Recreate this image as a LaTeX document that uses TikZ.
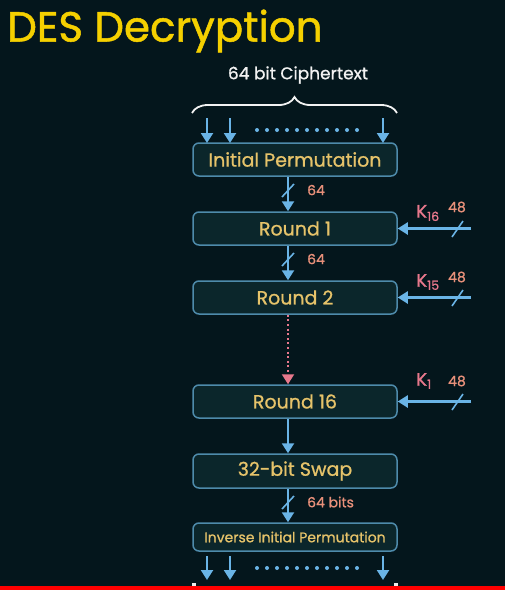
\documentclass[tikz,border=0pt]{standalone}
\usepackage{fontspec}
\setmainfont{Poppins}[FakeBold=0.9]
\newfontfamily\titlefont{Poppins}[FakeBold=1.2]
\usetikzlibrary{arrows.meta,decorations.pathreplacing}
\definecolor{bg}{HTML}{04161C}
\definecolor{boxfill}{HTML}{0B262B}
\definecolor{boxline}{HTML}{4E8BAB}
\definecolor{arrowc}{HTML}{6AB4E6}
\definecolor{boxtext}{HTML}{E6C36A}
\definecolor{numc}{HTML}{E8907A}
\definecolor{keyc}{HTML}{E8788C}
\definecolor{titlec}{HTML}{F5D000}
\definecolor{barred}{HTML}{FF0000}
\tikzset{
  stagebox/.style={draw=boxline, fill=boxfill, line width=1.5pt, rounded corners=6pt,
    minimum width=204pt, minimum height=33pt, inner sep=0pt, text=boxtext, font=\fontsize{19}{19}\selectfont},
  flow/.style={draw=arrowc, line width=2.2pt, -{Triangle[width=12pt,length=10pt]}},
  dotflow/.style={draw=keyc, line width=2pt, dash pattern=on 2pt off 2.6pt, -{Triangle[width=12pt,length=10pt]}},
  slashmark/.style={draw=arrowc, line width=1.6pt},
  numlabel/.style={text=numc, font=\fontsize{14}{14}\selectfont, inner sep=0pt},
  keylabel/.style={text=keyc, font=\fontsize{18}{18}\selectfont, inner sep=0pt},
  bitdot/.style={fill=arrowc, draw=none},
}
\begin{document}
\begin{tikzpicture}[x=1pt,y=-1pt]
\fill[bg] (0,0) rectangle (505,590);
\useasboundingbox (0,0) rectangle (505,590);
\fill[barred] (0,586) rectangle (505,590);
\fill[white!85!gray] (192,583) rectangle (196,586);
\fill[white!85!gray] (394,583) rectangle (398,586);

% title
\node[anchor=west, text=titlec, font={\titlefont\fontsize{42}{42}\selectfont}, inner sep=0pt] (title) at (7,31) {DES Decryption};

% ciphertext label and brace
\node[text=white!90!gray, font=\fontsize{17}{17}\selectfont, inner sep=0pt] (ct) at (298,75) {64 bit Ciphertext};
\coordinate (bl) at (192,113);
\coordinate (br) at (397,113);
\draw[white!90!gray, line width=1.8pt, decorate, decoration={brace, amplitude=16pt}] (bl) -- (br);

% boxes
\node[stagebox] (ip) at (295,159.5) {Initial Permutation};
\node[stagebox] (r1) at (295,228.5) {Round 1};
\node[stagebox] (r2) at (295,297.5) {Round 2};
\node[stagebox] (r16) at (295,401.5) {Round 16};
\node[stagebox, minimum height=34pt] (sw) at (295,471) {32-bit Swap};
\node[stagebox, minimum height=28pt, font=\fontsize{14}{14}\selectfont] (iip) at (295,537) {Inverse Initial Permutation};

% input arrows
\foreach \xx/\nm in {207/a,230/b,383/c} {
  \coordinate (in\nm) at (\xx,118);
  \draw[flow] (in\nm) -- (\xx,143);
}
\foreach \i in {0,...,10} { \fill[bitdot] (257+10*\i,130) circle (2); }

% output arrows
\foreach \xx/\nm in {207/a,230/b,383/c} {
  \coordinate (out\nm) at (\xx,580);
  \draw[flow] (\xx,556) -- (out\nm);
}
\foreach \i in {0,...,10} { \fill[bitdot] (257+10*\i,568) circle (2); }

% vertical connections
\draw[flow] ([xshift=-7pt]ip.south) -- ([xshift=-7pt]r1.north);
\draw[slashmark] (282,197) -- (294,184);
\node[numlabel, anchor=west] (n1) at (307,190) {64};

\draw[flow] ([xshift=-7pt]r1.south) -- ([xshift=-7pt]r2.north);
\draw[slashmark] (282,266) -- (294,253);
\node[numlabel, anchor=west] (n2) at (307,259) {64};

\draw[dotflow] ([xshift=-7pt]r2.south) -- ([xshift=-7pt]r16.north);

\draw[flow] ([xshift=-7pt]r16.south) -- ([xshift=-7pt]sw.north);

\draw[flow] ([xshift=-7pt]sw.south) -- ([xshift=-7pt]iip.north);
\draw[slashmark] (282,509) -- (294,496);
\node[numlabel, anchor=west] (n3) at (307,502) {64 bits};

% key inputs
\coordinate (k16in) at (471,228.5);
\draw[flow] (k16in) -- (r1.east);
\draw[slashmark] (452,237) -- (463,221);
\node[keylabel] (k16) at (428,213) {K\textsubscript{16}};
\node[numlabel] (k16n) at (457,207) {48};

\coordinate (k15in) at (471,297.5);
\draw[flow] (k15in) -- (r2.east);
\draw[slashmark] (452,306) -- (463,290);
\node[keylabel] (k15) at (428,282) {K\textsubscript{15}};
\node[numlabel] (k15n) at (457,277) {48};

\coordinate (k1in) at (471,401.5);
\draw[flow] (k1in) -- (r16.east);
\draw[slashmark] (452,410) -- (463,394);
\node[keylabel] (k1) at (424,381) {K\textsubscript{1}};
\node[numlabel] (k1n) at (457,381) {48};
\end{tikzpicture}
\end{document}
